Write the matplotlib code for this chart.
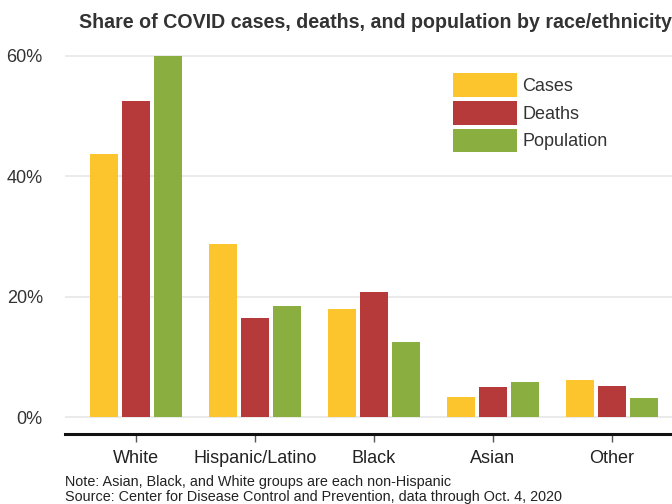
import matplotlib
matplotlib.use("Agg")
import matplotlib.pyplot as plt
import numpy as np

plt.rcParams['font.family'] = ['Liberation Sans', 'DejaVu Sans']

categories = ["White", "Hispanic/Latino", "Black", "Asian", "Other"]
cases = [43.7, 28.7, 18.0, 3.4, 6.2]
deaths = [52.5, 16.5, 20.8, 5.0, 5.2]
population = [60.0, 18.5, 12.5, 5.8, 3.2]
series_names = ["Cases", "Deaths", "Population"]
colors = ["#FCC52E", "#B73A3A", "#8BAE41"]
yticks = [0, 20, 40, 60]
ytick_labels = ["0%", "20%", "40%", "60%"]

title = "Share of COVID cases, deaths, and population by race/ethnicity"
note = "Note: Asian, Black, and White groups are each non-Hispanic"
source = "Source: Center for Disease Control and Prevention, data through Oct. 4, 2020"

fig = plt.figure(figsize=(6.72, 5.04), dpi=100)
ax = fig.add_axes([65 / 672, 1 - 434 / 504, 1 - 65 / 672, (434 - 52) / 504])

x = np.arange(len(categories))
step = 0.269
width = 0.235
for i, (vals, name, col) in enumerate(zip([cases, deaths, population], series_names, colors)):
    ax.bar(x + (i - 1) * step, vals, width=width, color=col, label=name,
           edgecolor=col, linewidth=0.0, zorder=3, clip_on=False)

ax.set_xlim(-0.597, 4.504)
ax.set_ylim(-2.82, 60.6)
ax.set_yticks(yticks)
ax.set_yticklabels(ytick_labels)
ax.yaxis.grid(True, color="#E6E6E6", linewidth=1.2, zorder=0)
ax.set_axisbelow(True)
ax.tick_params(axis="y", length=0, pad=16, labelsize=13, labelcolor="#333333")
ax.set_xticks(x)
ax.set_xticklabels(categories)
ax.tick_params(axis="x", length=6, width=1, color="#555555", pad=5.5,
               labelsize=13, labelcolor="#222222")
for s in ["top", "right", "left"]:
    ax.spines[s].set_visible(False)
ax.spines["bottom"].set_linewidth(2.2)
ax.spines["bottom"].set_color("#111111")

fig.text(79 / 672, 1 - 23 / 504, title, fontsize=14.1, fontweight="bold",
         color="#333333", ha="left", va="center")
fig.text(65 / 672, 1 - 482 / 504, note, fontsize=10.4, color="#222222",
         ha="left", va="center")
fig.text(65 / 672, 1 - 497 / 504, source, fontsize=10.4, color="#222222",
         ha="left", va="center")

fig.legend(loc="upper left", bbox_to_anchor=(453 / 672, 1 - 73 / 504),
           bbox_transform=fig.transFigure, frameon=False, fontsize=13,
           handlelength=3.54, handleheight=1.65, labelspacing=0.22,
           handletextpad=0.3, borderpad=0, borderaxespad=0,
           labelcolor="#333333")

fig.savefig("out.png", dpi=100)
